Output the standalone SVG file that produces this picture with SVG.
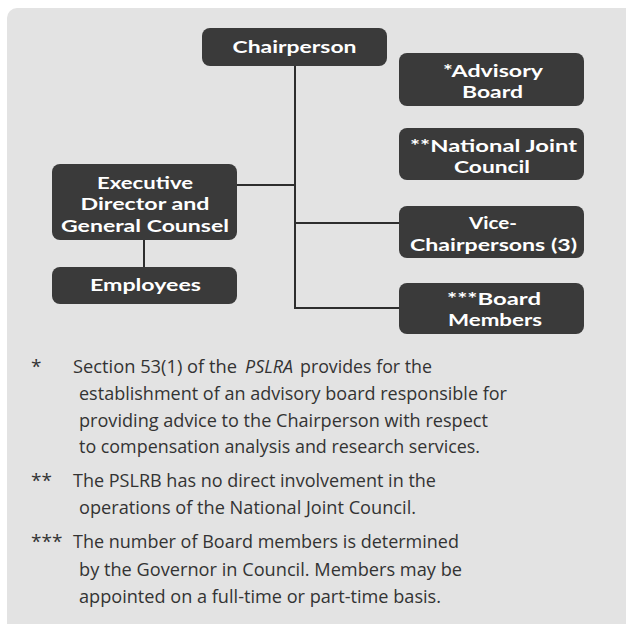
<svg xmlns="http://www.w3.org/2000/svg" width="626" height="624" viewBox="0 0 626 624">
  <style>
    .box { fill: #3a3a3a; }
    .lbl { font-family: Lato, "Open Sans", "Liberation Sans", sans-serif; font-weight: 700; font-size: 17px; fill: #ffffff; text-anchor: middle; }
    .note { font-family: "Open Sans", "Noto Sans", "Liberation Sans", sans-serif; font-weight: 400; font-size: 19px; fill: #333333; }
    .wire { fill: none; stroke: #2e2e2e; stroke-width: 2; }
  </style>

  <!-- panel -->
  <rect x="7" y="8" width="640" height="640" rx="10" fill="#e3e3e3"/>

  <!-- connectors -->
  <g id="connectors">
    <path class="wire" d="M295,66 V308 H399"/>
    <path class="wire" d="M237,185 H295"/>
    <path class="wire" d="M295,223 H399"/>
    <path class="wire" d="M144,240 V267"/>
  </g>

  <g id="chairperson">
    <rect class="box" x="202" y="28" width="185" height="38" rx="8"/>
    <text class="lbl" x="294.5" y="53" textLength="124" lengthAdjust="spacingAndGlyphs">Chairperson</text>
  </g>

  <g id="executive-director">
    <rect class="box" x="52" y="164" width="185" height="76" rx="8"/>
    <text class="lbl" x="145" y="189" textLength="96" lengthAdjust="spacingAndGlyphs">Executive</text>
    <text class="lbl" x="145" y="210" textLength="129" lengthAdjust="spacingAndGlyphs">Director and</text>
    <text class="lbl" x="145" y="232" textLength="168" lengthAdjust="spacingAndGlyphs">General Counsel</text>
  </g>

  <g id="employees">
    <rect class="box" x="52" y="267" width="185" height="37" rx="8"/>
    <text class="lbl" x="145.5" y="291" textLength="111" lengthAdjust="spacingAndGlyphs">Employees</text>
  </g>

  <g id="advisory-board">
    <rect class="box" x="399" y="53" width="185" height="53" rx="8"/>
    <text class="lbl" x="493" y="77" textLength="100" lengthAdjust="spacingAndGlyphs">*Advisory</text>
    <text class="lbl" x="492.5" y="98" textLength="61" lengthAdjust="spacingAndGlyphs">Board</text>
  </g>

  <g id="national-joint-council">
    <rect class="box" x="399" y="128" width="185" height="52" rx="8"/>
    <text class="lbl" x="493.5" y="152" textLength="167" lengthAdjust="spacingAndGlyphs">**National Joint</text>
    <text class="lbl" x="492" y="173" textLength="76" lengthAdjust="spacingAndGlyphs">Council</text>
  </g>

  <g id="vice-chairpersons">
    <rect class="box" x="399" y="206" width="185" height="52" rx="8"/>
    <text class="lbl" x="493" y="229" textLength="48" lengthAdjust="spacingAndGlyphs">Vice-</text>
    <text class="lbl" x="493.5" y="251" textLength="167" lengthAdjust="spacingAndGlyphs">Chairpersons (3)</text>
  </g>

  <g id="board-members">
    <rect class="box" x="399" y="283" width="185" height="51" rx="8"/>
    <text class="lbl" x="494" y="305" textLength="94" lengthAdjust="spacingAndGlyphs">***Board</text>
    <text class="lbl" x="495" y="326" textLength="94" lengthAdjust="spacingAndGlyphs">Members</text>
  </g>

  <!-- footnotes -->
  <g id="notes">
    <text class="note" x="31" y="373">*</text>
    <text class="note" x="73" y="373" textLength="164" lengthAdjust="spacingAndGlyphs">Section 53(1) of the</text>
    <text class="note" x="245" y="373" textLength="48" lengthAdjust="spacingAndGlyphs" font-style="italic">PSLRA</text>
    <text class="note" x="300" y="373" textLength="132" lengthAdjust="spacingAndGlyphs">provides for the</text>
    <text class="note" x="79" y="400" textLength="428" lengthAdjust="spacingAndGlyphs">establishment of an advisory board responsible for</text>
    <text class="note" x="79" y="427" textLength="409" lengthAdjust="spacingAndGlyphs">providing advice to the Chairperson with respect</text>
    <text class="note" x="79" y="453" textLength="401" lengthAdjust="spacingAndGlyphs">to compensation analysis and research services.</text>

    <text class="note" x="31" y="487">**</text>
    <text class="note" x="73" y="487" textLength="363" lengthAdjust="spacingAndGlyphs">The PSLRB has no direct involvement in the</text>
    <text class="note" x="79" y="514" textLength="337" lengthAdjust="spacingAndGlyphs">operations of the National Joint Council.</text>

    <text class="note" x="31" y="548">***</text>
    <text class="note" x="73" y="548" textLength="386" lengthAdjust="spacingAndGlyphs">The number of Board members is determined</text>
    <text class="note" x="79" y="576" textLength="383" lengthAdjust="spacingAndGlyphs">by the Governor in Council. Members may be</text>
    <text class="note" x="79" y="603" textLength="362" lengthAdjust="spacingAndGlyphs">appointed on a full-time or part-time basis.</text>
  </g>
</svg>
